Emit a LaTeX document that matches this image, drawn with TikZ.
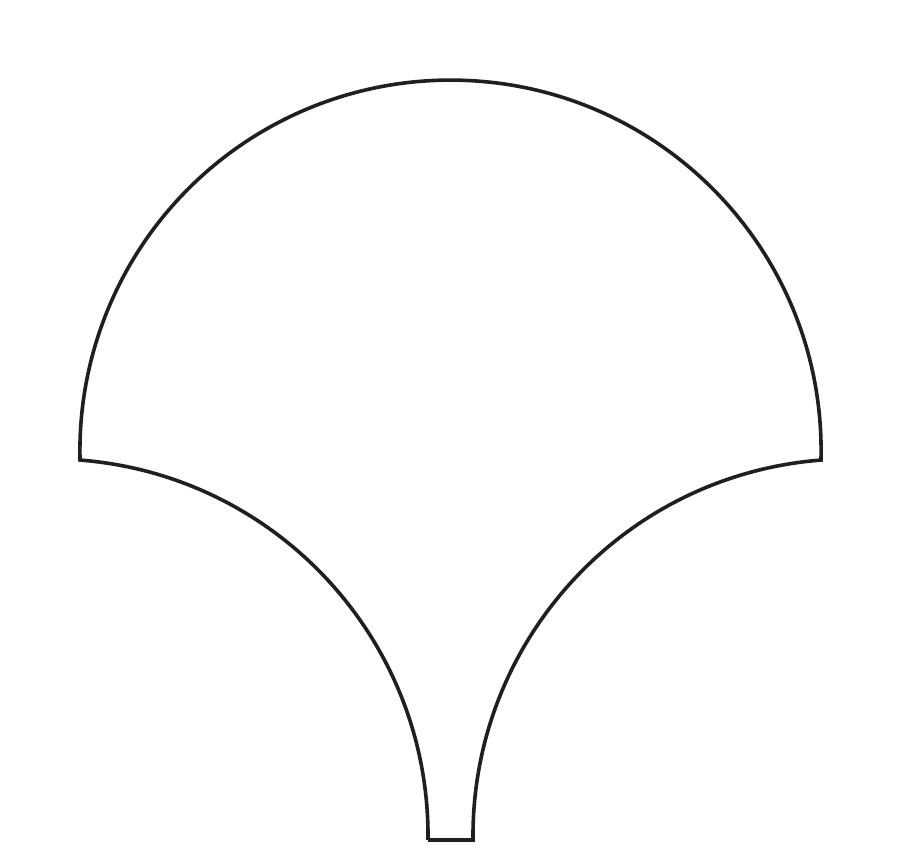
\documentclass[tikz,border=0pt]{standalone}
\usepackage{tikz}

\begin{document}
\begin{tikzpicture}[
        x=1pt, y=1pt,
        outline/.style={draw=black!88, line width=3.6pt, line join=miter}
      ]
      \useasboundingbox (0,0) rectangle (916,866);
      % foot of the fan, left and right
      \coordinate (footL) at (428,26);
      \coordinate (footR) at (473,26);
      \draw[outline] (footL) -- (footR)
        arc[start angle=180.59, end angle=94.44, radius=377.2]
        arc[start angle=-1.45, end angle=181.45, radius=370.6]
        arc[start angle=85.56, end angle=-0.59, radius=377.2]
        -- cycle;
\end{tikzpicture}
\end{document}
